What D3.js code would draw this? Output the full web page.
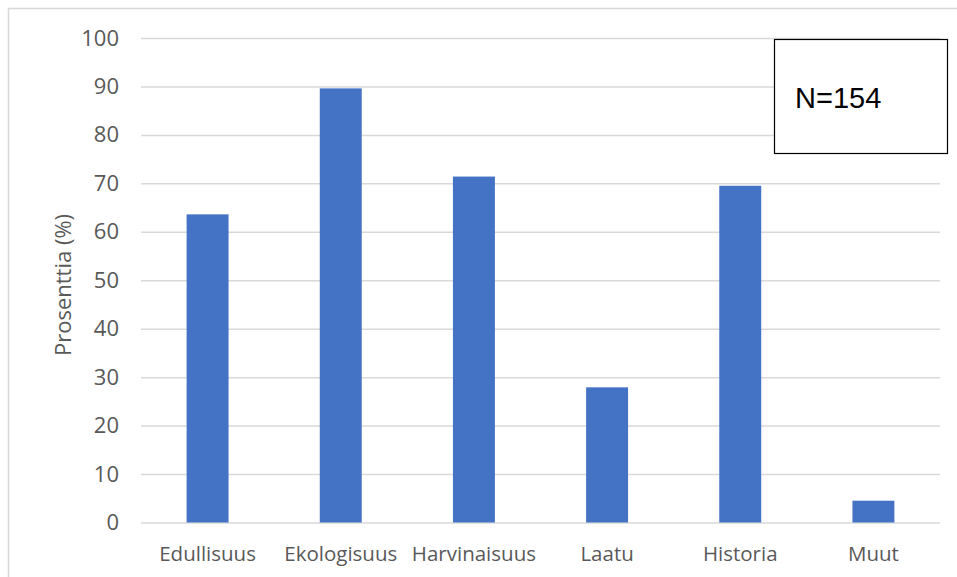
<!DOCTYPE html>
<html lang="fi">
<head>
<meta charset="utf-8">
<title>Prosenttia</title>
<script src="https://d3js.org/d3.v7.min.js"></script>
<style>
  body { margin: 0; background: #fff; }
  text { font-family: "Open Sans", Lato, sans-serif; }
</style>
</head>
<body>
<script>
// data: share of respondents (N=154)
var categories = ["Edullisuus", "Ekologisuus", "Harvinaisuus", "Laatu", "Historia", "Muut"];
var values = [63.6, 89.6, 71.4, 27.9, 69.5, 4.5];
var yTicks = [0, 10, 20, 30, 40, 50, 60, 70, 80, 90, 100];
var noteText = "N=154";

var width = 957, height = 577;

var svg = d3.select("body").append("svg")
    .attr("width", width)
    .attr("height", height);

// outer chart frame (only top/left visible in the picture)
svg.append("rect")
    .attr("x", 8.5).attr("y", 8.5)
    .attr("width", 960).attr("height", 580)
    .attr("fill", "none")
    .attr("stroke", "#d9d9d9")
    .attr("stroke-width", 1.5);

var x = d3.scaleBand()
    .domain(categories)
    .range([141, 940])
    .paddingInner(0.685)
    .paddingOuter(0.685 / 2);

var y = d3.scaleLinear()
    .domain([0, 100])
    .range([522.5, 38]);

// gridlines + y labels
var yAxis = svg.append("g")
    .attr("transform", "translate(141,0)")
    .call(d3.axisLeft(y).tickValues(yTicks).tickSize(-799).tickPadding(22));
yAxis.select(".domain").remove();
yAxis.selectAll(".tick line").attr("stroke", "#d9d9d9").attr("stroke-width", 1.5);
yAxis.selectAll(".tick text")
    .attr("fill", "#595959")
    .style("font-size", "22px");

// bars
svg.append("g")
    .selectAll("rect")
    .data(values)
    .join("rect")
    .attr("x", function(d, i) { return x(categories[i]); })
    .attr("y", function(d) { return y(d); })
    .attr("width", x.bandwidth())
    .attr("height", function(d) { return y(0) - y(d); })
    .attr("fill", "#4472c4");

// x labels
var xAxis = svg.append("g")
    .attr("transform", "translate(0,522.5)")
    .call(d3.axisBottom(x).tickSize(0).tickPadding(24));
xAxis.select(".domain").remove();
xAxis.selectAll(".tick text")
    .attr("fill", "#595959")
    .style("font-size", "20.5px");

// y title
svg.append("text")
    .attr("transform", "translate(71,285) rotate(-90)")
    .attr("text-anchor", "middle")
    .attr("fill", "#595959")
    .style("font-size", "22px")
    .text("Prosenttia (%)");

// N box
svg.append("rect")
    .attr("x", 774.5).attr("y", 39.5)
    .attr("width", 173).attr("height", 114)
    .attr("fill", "#fff")
    .attr("stroke", "#000")
    .attr("stroke-width", 1.2);
svg.append("text")
    .attr("x", 795).attr("y", 108)
    .style("font-family", "'Liberation Sans', Arial, sans-serif")
    .style("font-size", "29px")
    .attr("fill", "#000")
    .text(noteText);
</script>
</body>
</html>
